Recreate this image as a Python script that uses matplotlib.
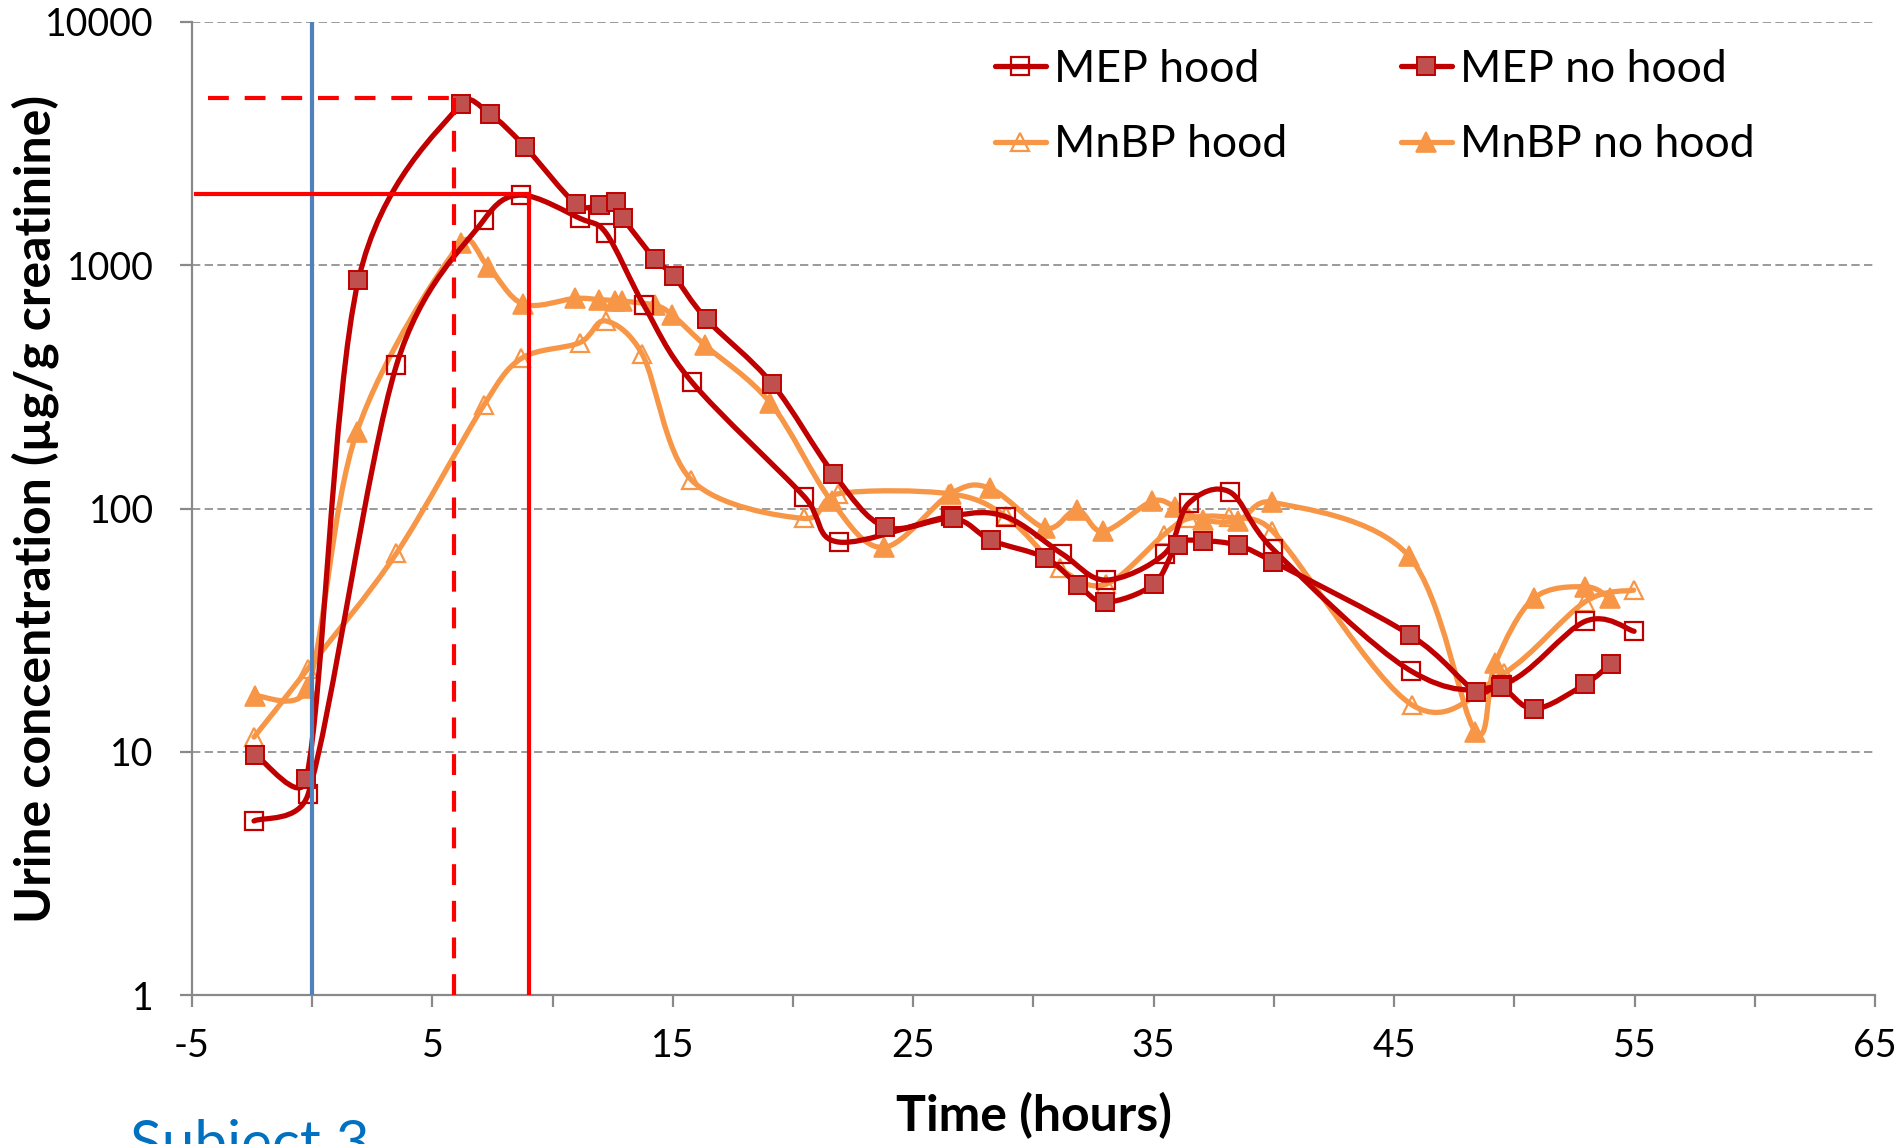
import numpy as np
import matplotlib
matplotlib.use('Agg')
import matplotlib.pyplot as plt
from matplotlib.path import Path
from matplotlib.patches import PathPatch
from matplotlib.lines import Line2D
from matplotlib.ticker import FixedLocator, FixedFormatter

plt.rcParams['font.family'] = ['Lato', 'DejaVu Sans']

# ---------------- data ----------------
mep_hood_t = [-2.42, -0.17, 3.5, 7.14, 8.7, 11.15, 12.22, 13.8, 15.8, 20.46, 21.9, 26.55,
              28.84, 31.2, 33.0, 35.46, 36.45, 38.16, 39.96, 45.7, 49.5, 52.95, 54.98]
mep_hood = [5.2, 6.7, 387, 1535, 1940, 1555, 1355, 683, 330, 112, 72.8, 93,
            92.5, 65, 50.8, 65.3, 105, 117, 68, 21.5, 18.9, 34.4, 31.3]

mep_nohood_t = [-2.36, -0.25, 1.92, 6.17, 7.4, 8.85, 10.98, 11.97, 12.65, 12.94, 14.24, 15.04,
                16.4, 19.14, 21.68, 23.83, 26.66, 28.24, 30.49, 31.86, 32.98, 35.0, 36.0, 37.05,
                38.52, 39.98, 45.67, 48.4, 49.43, 50.83, 52.95, 54.0]
mep_nohood = [9.7, 7.7, 868, 4590, 4170, 3066, 1780, 1765, 1823, 1557, 1063, 903,
              599, 325, 139, 84, 91, 74, 62.7, 48.5, 41.2, 48.8, 71, 73.6,
              70.5, 60.4, 30.2, 17.7, 18.5, 15.0, 19.0, 23.0]

mnbp_hood_t = [-2.42, -0.17, 3.5, 7.14, 8.7, 11.12, 12.2, 13.73, 15.77, 20.44, 21.88, 26.5,
               28.84, 31.1, 33.0, 35.42, 36.45, 38.12, 39.93, 45.74, 49.55, 52.95, 54.96]
mnbp_hood = [11.5, 22, 65.4, 266, 414, 480, 590, 430, 131, 91, 115, 115,
             93, 56.8, 48.8, 78, 91, 92, 81, 15.6, 21, 41.4, 46.2]

mnbp_nohood_t = [-2.4, -0.2, 1.86, 6.17, 7.32, 8.77, 10.93, 11.93, 12.6, 12.9, 14.24, 14.97,
                 16.32, 19.05, 21.6, 23.77, 26.55, 28.2, 30.49, 31.81, 32.9, 34.93, 35.9, 37.05,
                 38.5, 39.93, 45.6, 48.38, 49.21, 50.8, 52.95, 53.99]
mnbp_nohood = [17.0, 18.3, 207, 1230, 985, 692, 730, 722, 715, 712, 685, 625,
               470, 272, 107, 69.2, 115, 121, 83, 99, 80.5, 107, 101.6, 90,
               89, 106, 64, 12.1, 23.2, 42.7, 47.7, 42.7]

series_labels = ['MEP hood', 'MEP no hood', 'MnBP hood', 'MnBP no hood']

# reference lines (exposure start, Tmax / Cmax)
exposure_start = 0
tmax_nohood, cmax_nohood, hline_nohood_start = 5.9, 4850, -4.33
tmax_hood, cmax_hood, hline_hood_start = 9.0, 1960, -4.82

x_ticks = list(range(-5, 66, 5))
x_ticklabels = ['-5', '', '5', '', '15', '', '25', '', '35', '', '45', '', '55', '', '65']
y_ticks = [1, 10, 100, 1000, 10000]
y_ticklabels = ['1', '10', '100', '1000', '10000']

# ---------------- figure ----------------
W, H = 1903, 1144
fig = plt.figure(figsize=(W / 100, H / 100), dpi=100)
ax = fig.add_axes([192 / W, 1 - 995.2 / H, (1875 - 192) / W, (995.2 - 21.8) / H])
ax.set_yscale('log')
ax.set_xlim(-5, 65)
ax.set_ylim(1, 10000)

GRAY = '#898989'
for s in ['top', 'right']:
    ax.spines[s].set_visible(False)
for s in ['left', 'bottom']:
    ax.spines[s].set_color(GRAY)
    ax.spines[s].set_linewidth(1.6)

ax.xaxis.set_major_locator(FixedLocator(x_ticks))
ax.xaxis.set_major_formatter(FixedFormatter(x_ticklabels))
ax.yaxis.set_major_locator(FixedLocator(y_ticks))
ax.yaxis.set_major_formatter(FixedFormatter(y_ticklabels))
ax.yaxis.set_minor_locator(FixedLocator([]))
ax.tick_params(axis='both', which='major', direction='out', length=8.5, width=1.6,
               color=GRAY, labelsize=27, labelcolor='black')
ax.tick_params(axis='x', pad=15)
ax.tick_params(axis='y', pad=19)
ax.tick_params(axis='y', which='minor', length=0)

ax.yaxis.grid(True, which='major', color=GRAY, linestyle=(0, (5, 2.6)), linewidth=1.2)
ax.set_axisbelow(True)

ax.set_xlabel('Time (hours)', fontsize=36, fontweight='bold')
ax.xaxis.set_label_coords(0.5003, -0.099)
ax.set_ylabel('Urine concentration (µg/g creatinine)', fontsize=36, fontweight='bold')
ax.yaxis.set_label_coords(-0.079, 0.5)


def excel_smooth(ax, xs, ys):
    """Bezier path through the points, with Excel-like smoothing done in display space."""
    pts = ax.transData.transform(np.column_stack([xs, ys]))
    n = len(pts)
    verts = [pts[0]]
    codes = [Path.MOVETO]
    for i in range(n - 1):
        p0 = pts[i - 1] if i > 0 else pts[i]
        p1 = pts[i]
        p2 = pts[i + 1]
        p3 = pts[i + 2] if i + 2 < n else pts[i + 1]
        d12 = np.hypot(*(p2 - p1))
        v1 = (p2 - p0) / 6.0
        v2 = (p3 - p1) / 6.0
        n1 = np.hypot(*v1)
        n2 = np.hypot(*v2)
        if n1 > d12 / 2 and n1 > 0:
            v1 = v1 * (d12 / 2) / n1
        if n2 > d12 / 2 and n2 > 0:
            v2 = v2 * (d12 / 2) / n2
        verts += [p1 + v1, p2 - v2, p2]
        codes += [Path.CURVE4] * 3
    dverts = ax.transData.inverted().transform(np.array(verts))
    return Path(dverts, codes)


DARKRED = '#C00000'
MEPFILL = '#C0504D'
ORANGE = '#F79646'
LW = 3.8

series = [
    (mep_hood_t, mep_hood, DARKRED, dict(marker='s', markersize=12.5, markerfacecolor='none',
                                          markeredgecolor=DARKRED, markeredgewidth=1.6), 4),
    (mep_nohood_t, mep_nohood, DARKRED, dict(marker='s', markersize=13, markerfacecolor=MEPFILL,
                                              markeredgecolor=DARKRED, markeredgewidth=1.4), 4),
    (mnbp_hood_t, mnbp_hood, ORANGE, dict(marker='^', markersize=13.5, markerfacecolor='none',
                                           markeredgecolor=ORANGE, markeredgewidth=1.6), 3),
    (mnbp_nohood_t, mnbp_nohood, ORANGE, dict(marker='^', markersize=14, markerfacecolor=ORANGE,
                                               markeredgecolor=ORANGE, markeredgewidth=1.2), 3),
]

handles = []
for (t, v, col, mk, z), lab in zip(series, series_labels):
    path = excel_smooth(ax, t, v)
    ax.add_patch(PathPatch(path, facecolor='none', edgecolor=col, linewidth=LW,
                           capstyle='round', joinstyle='round', zorder=z))
    ax.plot(t, v, linestyle='none', zorder=z + 0.5, **mk)
    handles.append(Line2D([], [], color=col, linewidth=LW, solid_capstyle='round', **mk))

# reference lines
REDL = '#FF0000'
ax.plot([exposure_start, exposure_start], [1, 10000], color='#4F81BD', linewidth=3, zorder=8)
ax.plot([tmax_hood, tmax_hood], [1, cmax_hood], color=REDL, linewidth=3, zorder=8)
ax.plot([hline_hood_start, tmax_hood], [cmax_hood, cmax_hood], color=REDL, linewidth=3, zorder=8)
ax.plot([tmax_nohood, tmax_nohood], [1, cmax_nohood], color=REDL, linewidth=3,
        linestyle=(0, (5, 3.8)), zorder=8)
ax.plot([hline_nohood_start, tmax_nohood], [cmax_nohood, cmax_nohood], color=REDL, linewidth=3,
        linestyle=(0, (5, 3.8)), zorder=8)

order = [0, 2, 1, 3]
leg = ax.legend([handles[i] for i in order], [series_labels[i] for i in order],
                ncol=2, loc='upper left', bbox_to_anchor=(0.477, 0.972), frameon=False,
                fontsize=32, handlelength=1.15, handletextpad=0.18, columnspacing=2.56,
                labelspacing=0.77, borderpad=0, borderaxespad=0)
leg.set_zorder(10)

fig.text(130 / W, -17 / H, 'Subject 3', color='#0070C0', fontsize=42, va='baseline', ha='left')

fig.savefig('out.png', dpi=100)
